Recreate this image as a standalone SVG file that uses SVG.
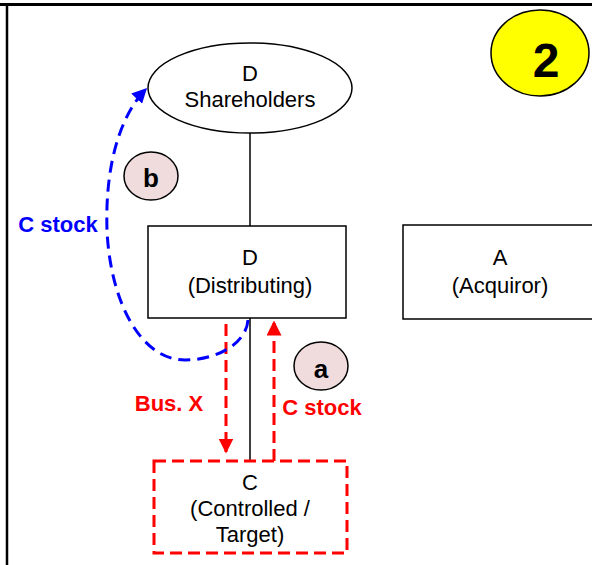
<svg xmlns="http://www.w3.org/2000/svg" width="592" height="565" viewBox="0 0 592 565">
<style>
text{font-family:"Liberation Sans",Arial,sans-serif;font-size:22px;fill:#000;text-anchor:middle}
.b{font-weight:bold}
.node{fill:#fff;stroke:#000;stroke-width:1.5}
.tag{fill:#f0dcdc;stroke:#000;stroke-width:1.5}
.red{stroke:#ff0000;stroke-width:3;stroke-dasharray:12 6;fill:none}
.blue{stroke:#0000ff;stroke-width:3;stroke-dasharray:12 7;fill:none}
</style>
<defs>
<marker id="ar" viewBox="0 0 10 10" refX="9" refY="5" markerWidth="5" markerHeight="5" orient="auto" markerUnits="strokeWidth"><path d="M0,0 L10,5 L0,10 z" fill="#ff0000"/></marker>
<marker id="ab" viewBox="0 0 10 10" refX="9" refY="5" markerWidth="5" markerHeight="5" orient="auto" markerUnits="strokeWidth"><path d="M0,0 L10,5 L0,10 z" fill="#0000ff"/></marker>
</defs>
<rect width="592" height="565" fill="#fff"/>
<line x1="0" y1="4.5" x2="592" y2="4.5" stroke="#000" stroke-width="3"/>
<line x1="7" y1="3" x2="7" y2="565" stroke="#000" stroke-width="2.5"/>
<g id="connectors">
<line x1="250" y1="133" x2="250" y2="226" stroke="#000" stroke-width="1.5"/>
<line x1="250" y1="318" x2="250" y2="461" stroke="#000" stroke-width="1.5"/>
<line class="red" x1="226" y1="324" x2="226" y2="452" marker-end="url(#ar)"/>
<line class="red" x1="274" y1="461" x2="274" y2="322" marker-end="url(#ar)"/>
<path class="blue" d="M248,320 C246,345 215,360 185,360 C140,360 110,300 107,230 C105,170 118,118 146,89" marker-end="url(#ab)"/>
</g>
<g id="shareholders">
<ellipse class="node" cx="250" cy="88" rx="102" ry="45"/>
<text x="250" y="81">D</text>
<text x="250" y="107">Shareholders</text>
</g>
<g id="badge2">
<ellipse cx="540" cy="53" rx="49" ry="43" fill="#ffff00" stroke="#000" stroke-width="1.5"/>
<text x="546" y="77" class="b" style="font-size:48px">2</text>
</g>
<g id="distributing">
<rect class="node" x="148" y="226" width="198" height="92"/>
<text x="250" y="265">D</text>
<text x="250" y="293">(Distributing)</text>
</g>
<g id="acquiror">
<rect class="node" x="403" y="225" width="195" height="94"/>
<text x="500" y="265">A</text>
<text x="500" y="293">(Acquiror)</text>
</g>
<g id="controlled">
<rect class="red" x="154" y="461" width="193" height="92"/>
<text x="250" y="490">C</text>
<text x="250" y="516">(Controlled /</text>
<text x="250" y="542">Target)</text>
</g>
<g id="tag-a">
<ellipse class="tag" cx="321" cy="366" rx="27" ry="24"/>
<text x="321" y="378" class="b" style="font-size:26px">a</text>
</g>
<g id="tag-b">
<ellipse class="tag" cx="151" cy="176" rx="27" ry="24"/>
<text x="151" y="187" class="b" style="font-size:26px">b</text>
</g>
<text x="58" y="232" class="b" style="fill:#0000ff">C stock</text>
<text x="169" y="411" class="b" style="fill:#ff0000">Bus. X</text>
<text x="322" y="415" class="b" style="fill:#ff0000">C stock</text>
</svg>
